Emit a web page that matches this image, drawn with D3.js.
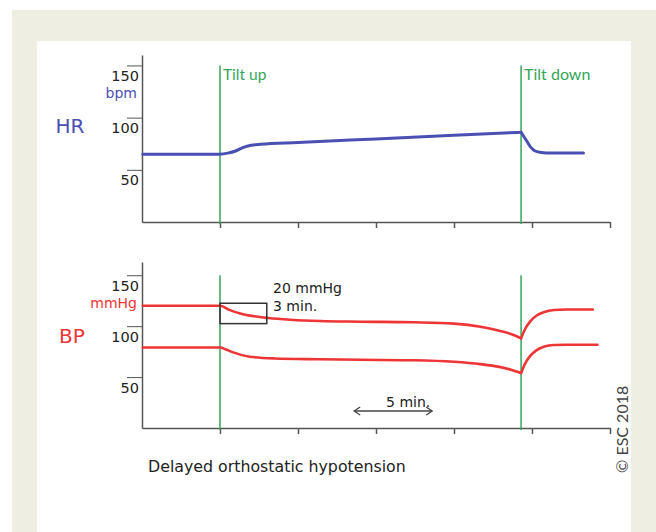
<!DOCTYPE html>
<html><head><meta charset="utf-8">
<script src="https://cdn.jsdelivr.net/npm/d3@7"></script>
<style>
html,body{margin:0;padding:0;background:#fff;}
svg{display:block;}
</style></head>
<body>
<svg id="c" width="656" height="532"></svg>
<script>
// ---- data ----
const timeTicks = [5, 10, 15, 20, 25, 30];          // minutes (x-axis ticks)
const tiltUp = 5, tiltDown = 24.3;                   // minutes
const hrTicks = [50, 100, 150];
const bpTicks = [50, 100, 150];

const hrMin = [0.05, 5, 5.5, 6.0, 6.5, 7.0, 7.6, 10, 15, 20, 24.3, 24.6, 24.9, 25.2, 25.6, 26.2, 28.3];
const hrVal = [65, 65, 66, 68, 71.5, 73.5, 74.5, 76.2, 79.6, 83, 86, 79, 72, 68, 66.5, 66, 66];

const sysMin = [0.05, 5, 5.6, 6.3, 7.2, 8.1, 9.5, 11.4, 14, 17.4, 20, 21.7, 22.9, 23.7, 24.3, 24.55, 24.9, 25.3, 25.8, 26.4, 27.2, 28.9];
const sysVal = [120, 120, 116, 112.5, 109.7, 108, 106.3, 105, 104.4, 103.8, 102.5, 99.5, 95.5, 92, 88, 97, 105, 110.5, 114, 115.8, 116.3, 116.3];

const diaMin = [0.05, 5, 5.4, 5.8, 6.9, 8.5, 11.4, 14, 17.4, 20, 21.7, 22.9, 23.7, 24.3, 24.55, 24.9, 25.3, 25.8, 26.4, 27.2, 29.2];
const diaVal = [79, 79, 77, 74.5, 70, 68.3, 67.5, 67, 66.5, 65, 62.7, 60, 57, 54, 63, 71, 76.5, 80, 81.5, 81.8, 81.8];

const boxStart = 5, boxMinutes = 3, boxTop = 122.5, boxDrop = 20;
const arrowStart = 13.6, arrowMinutes = 5, arrowLevel = 16.7;

// ---- layout ----
const svg = d3.select("#c");
const BEIGE = "#eeeee2", AXIS = "#555", BLUE = "#4a4fb4", RED = "#ee3535", GREEN = "#35a558";
const NUMFONT = "'DejaVu Sans',sans-serif";
const HFONT = "Lato,'Open Sans',sans-serif";

svg.append("rect").attr("x", 12).attr("y", 10).attr("width", 644).attr("height", 522).attr("fill", BEIGE);
svg.append("rect").attr("x", 37).attr("y", 41).attr("width", 594).attr("height", 491).attr("fill", "#fff");

const x = d3.scaleLinear().domain([0, 30]).range([142, 610]);
const yHR = d3.scaleLinear().domain([0, 160]).range([222, 55]);
const yBP = d3.scaleLinear().domain([0, 163]).range([428, 262]);

function drawPanel(y, ticks) {
  const g = svg.append("g");
  const ya = g.append("g").attr("transform", `translate(${x(0)},0)`)
    .call(d3.axisLeft(y).tickValues(ticks).tickSize(15).tickSizeOuter(0).tickFormat(d3.format("d")));
  ya.select(".domain").attr("stroke", AXIS).attr("stroke-width", 1.5);
  ya.selectAll(".tick line").attr("stroke", AXIS).attr("stroke-width", 1);
  ya.selectAll(".tick text").attr("x", -3).attr("dy", 0).attr("y", 15)
    .attr("font-family", NUMFONT).attr("font-size", 14.5).attr("fill", "#222");
  const xa = g.append("g").attr("transform", `translate(0,${y(0)})`)
    .call(d3.axisBottom(x).tickValues(timeTicks).tickSize(6).tickSizeOuter(0).tickFormat(""));
  xa.select(".domain").attr("stroke", AXIS).attr("stroke-width", 1.5);
  xa.selectAll(".tick line").attr("stroke", AXIS).attr("stroke-width", 1.5);
  [tiltUp, tiltDown].forEach(t => {
    g.append("line").attr("x1", x(t)).attr("x2", x(t))
      .attr("y1", y(150)).attr("y2", y(0) + 2)
      .attr("stroke", GREEN).attr("stroke-width", 1.5);
  });
  return g;
}

function drawSeries(mins, vals, y, color, w) {
  const pts = mins.map((m, i) => [m, vals[i]]);
  const k = mins.indexOf(tiltDown);
  const segs = k > 0 ? [pts.slice(0, k + 1), pts.slice(k)] : [pts];
  const line = d3.line().x(d => x(d[0])).y(d => y(d[1])).curve(d3.curveMonotoneX);
  segs.forEach(s => svg.append("path").attr("d", line(s)).attr("fill", "none")
    .attr("stroke", color).attr("stroke-width", w).attr("stroke-linecap", "round").attr("stroke-linejoin", "round"));
}

drawPanel(yHR, hrTicks);
drawPanel(yBP, bpTicks);

drawSeries(hrMin, hrVal, yHR, BLUE, 3);
drawSeries(sysMin, sysVal, yBP, RED, 2.6);
drawSeries(diaMin, diaVal, yBP, RED, 2.6);

svg.append("text").attr("x", x(tiltUp) + 3).attr("y", 80).text("Tilt up")
  .attr("font-family", HFONT).attr("font-size", 15.5).attr("fill", GREEN);
svg.append("text").attr("x", x(tiltDown) + 3).attr("y", 80).text("Tilt down")
  .attr("font-family", HFONT).attr("font-size", 16).attr("fill", GREEN);

svg.append("text").attr("x", 137).attr("y", 98).attr("text-anchor", "end").text("bpm")
  .attr("font-family", NUMFONT).attr("font-size", 14).attr("fill", BLUE);
svg.append("text").attr("x", 70).attr("y", 133).attr("text-anchor", "middle").text("HR")
  .attr("font-family", NUMFONT).attr("font-size", 20).attr("fill", BLUE);
svg.append("text").attr("x", 137).attr("y", 308).attr("text-anchor", "end").text("mmHg")
  .attr("font-family", NUMFONT).attr("font-size", 14).attr("fill", RED);
svg.append("text").attr("x", 72).attr("y", 343).attr("text-anchor", "middle").text("BP")
  .attr("font-family", NUMFONT).attr("font-size", 20).attr("fill", RED);

svg.append("rect").attr("x", x(boxStart)).attr("y", yBP(boxTop))
  .attr("width", x(boxStart + boxMinutes) - x(boxStart))
  .attr("height", yBP(boxTop - boxDrop) - yBP(boxTop))
  .attr("fill", "none").attr("stroke", "#333").attr("stroke-width", 1.5);
svg.append("text").attr("x", 273).attr("y", 293).text("20 mmHg")
  .attr("font-family", NUMFONT).attr("font-size", 14).attr("fill", "#222");
svg.append("text").attr("x", 273).attr("y", 311).text("3 min.")
  .attr("font-family", NUMFONT).attr("font-size", 14).attr("fill", "#222");

const ax1 = x(arrowStart), ax2 = x(arrowStart + arrowMinutes), ay = yBP(arrowLevel);
svg.append("line").attr("x1", ax1).attr("x2", ax2).attr("y1", ay).attr("y2", ay)
  .attr("stroke", "#444").attr("stroke-width", 1.3);
svg.append("path").attr("d", `M${ax1 + 6},${ay - 4}L${ax1},${ay}L${ax1 + 6},${ay + 4}M${ax2 - 6},${ay - 4}L${ax2},${ay}L${ax2 - 6},${ay + 4}`)
  .attr("fill", "none").attr("stroke", "#444").attr("stroke-width", 1.3);
svg.append("text").attr("x", (ax1 + ax2) / 2 + 15).attr("y", 407).attr("text-anchor", "middle").text("5 min.")
  .attr("font-family", NUMFONT).attr("font-size", 14).attr("fill", "#222");

svg.append("text").attr("x", 148).attr("y", 472).text("Delayed orthostatic hypotension")
  .attr("font-family", NUMFONT).attr("font-size", 15.8).attr("fill", "#222");

svg.append("text").attr("transform", "translate(628,473) rotate(-90)").text("© ESC 2018")
  .attr("font-family", HFONT).attr("font-size", 16).attr("fill", "#444");
</script>
</body></html>
